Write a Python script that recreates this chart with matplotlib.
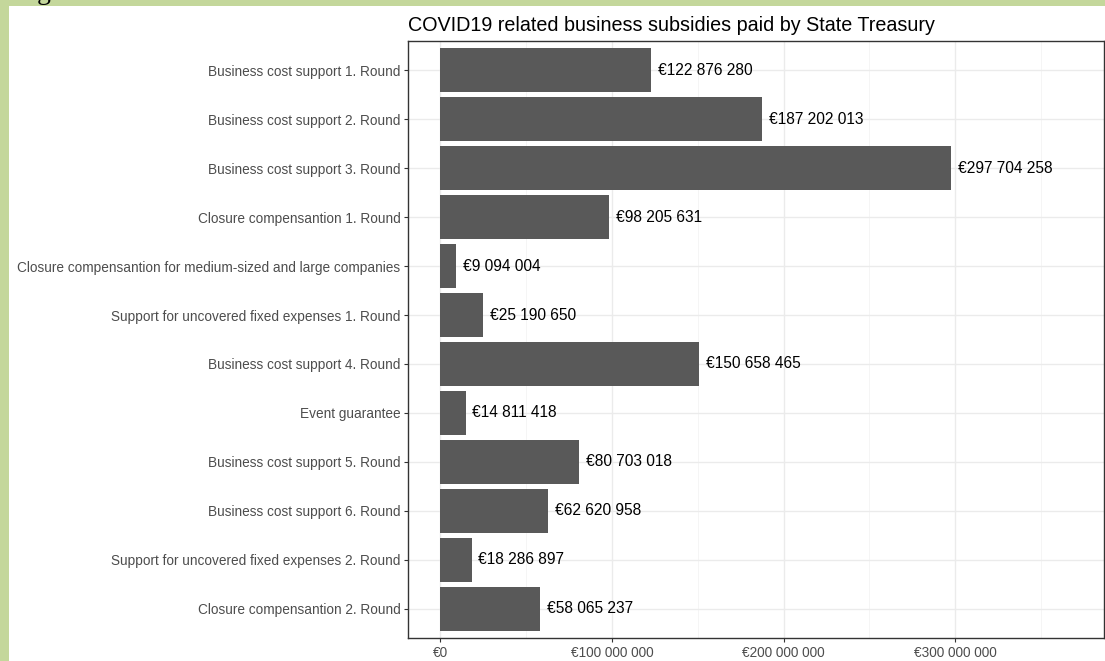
import matplotlib.pyplot as plt
from matplotlib.patches import Rectangle
from matplotlib.ticker import FuncFormatter, MultipleLocator

plt.rcParams['font.family'] = ['Liberation Sans', 'DejaVu Sans']

# subsidy programmes in payout order, amounts in euros
programmes = [
    "Business cost support 1. Round",
    "Business cost support 2. Round",
    "Business cost support 3. Round",
    "Closure compensantion 1. Round",
    "Closure compensantion for medium-sized and large companies",
    "Support for uncovered fixed expenses 1. Round",
    "Business cost support 4. Round",
    "Event guarantee",
    "Business cost support 5. Round",
    "Business cost support 6. Round",
    "Support for uncovered fixed expenses 2. Round",
    "Closure compensantion 2. Round",
]
paid = [
    122876280, 187202013, 297704258, 98205631, 9094004, 25190650,
    150658465, 14811418, 80703018, 62620958, 18286897, 58065237,
]
x_ticks = [0, 100_000_000, 200_000_000, 300_000_000]


def euro(v):
    return "€" + f"{int(v):,}".replace(",", " ")


W, H = 1105, 661
fig = plt.figure(figsize=(W / 100, H / 100), dpi=100, facecolor="#C4D79B")

# white page on top of the green background, kept under the axes
fig.patches.append(Rectangle((9 / W, 0), 1 - 9 / W, 1 - 6 / H,
                             transform=fig.transFigure, facecolor="white",
                             edgecolor="none", zorder=-5))
fig.text(37 / W, 1 + 1 / H, "g", fontsize=20, family="Liberation Serif",
         va="baseline", ha="left", color="black")

ax = fig.add_axes([408 / W, (H - 638) / H, (1104 - 408) / W, (638 - 41) / H])
ax.set_facecolor("white")

pos = list(range(len(programmes)))
ax.barh(pos, paid, height=0.9, color="#595959", zorder=2)
for p, v in zip(pos, paid):
    ax.annotate(euro(v), (v, p), xytext=(5, 0), textcoords="offset points",
                va="center", ha="left", fontsize=11.2, color="black", zorder=3)

ax.set_xlim(-18.7e6, 386.6e6)
ax.set_ylim(len(programmes) - 0.4, -0.6)
ax.set_yticks(pos)
ax.set_yticklabels(programmes)
ax.set_xticks(x_ticks)
ax.xaxis.set_major_formatter(FuncFormatter(lambda v, _: euro(v)))
ax.xaxis.set_minor_locator(MultipleLocator(50_000_000))

ax.grid(True, which="major", color="#EBEBEB", linewidth=1.0, zorder=0)
ax.grid(True, which="minor", axis="x", color="#F4F4F4", linewidth=0.6, zorder=0)
ax.set_axisbelow(True)
ax.tick_params(axis="both", which="major", colors="#333333", labelcolor="#4D4D4D",
               labelsize=9.8, length=3, width=0.8, pad=2.5)
ax.tick_params(axis="x", which="minor", length=0)
for s in ax.spines.values():
    s.set_color("#333333")
    s.set_linewidth(1.0)

ax.set_title("COVID19 related business subsidies paid by State Treasury",
             loc="left", fontsize=14.2, color="black", pad=7)

fig.savefig("out.png", dpi=100, facecolor=fig.get_facecolor())
